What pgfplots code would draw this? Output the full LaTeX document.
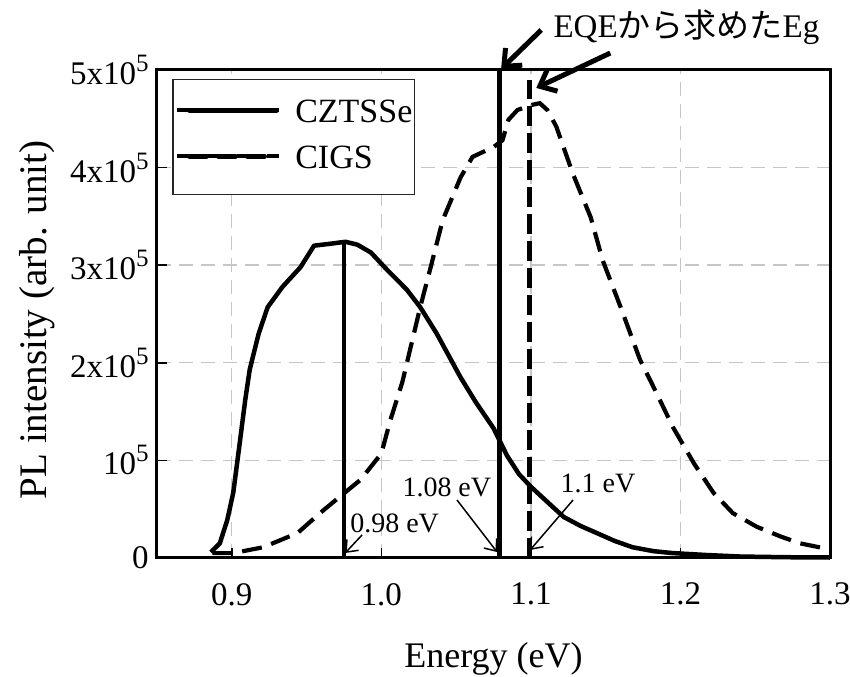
\documentclass[border=0pt]{standalone}
\usepackage{pgfplots}
\pgfplotsset{compat=1.18}
\usepackage{pgfplotstable}
\usepackage{fontspec}
\setmainfont{Liberation Serif}
\newfontfamily\cjk{Noto Sans CJK JP}
\usetikzlibrary{calc,arrows.meta}
\newcommand{\expf}[1]{\raisebox{6.5pt}{\fontsize{12.5pt}{14pt}\selectfont #1}}

\pgfplotstableread{
x y
0.886 6000
0.892 15000
0.897 39000
0.901 67000
0.905 114000
0.909 162000
0.912 193000
0.918 230000
0.924 257000
0.934 278000
0.946 298000
0.955 320000
0.966 322000
0.976 324000
0.984 321000
0.993 313000
1.004 295000
1.017 275000
1.026 257000
1.037 230000
1.053 185000
1.063 160000
1.075 133000
1.084 105000
1.092 86000
1.100 73000
1.112 56000
1.122 42000
1.133 33000
1.144 25600
1.156 17500
1.168 11000
1.182 7000
1.195 5000
1.218 3000
1.240 1500
1.270 800
1.300 500
}\cztsse

\pgfplotstableread{
x y
0.887 5000
0.901 5000
0.921 11000
0.944 25600
0.959 46000
0.972 62500
0.986 80000
1.000 107000
1.006 141000
1.014 180000
1.026 257000
1.033 298000
1.041 346000
1.053 390000
1.061 411000
1.075 421000
1.081 428000
1.085 449000
1.091 459000
1.100 464000
1.106 466000
1.111 459000
1.117 442000
1.128 394000
1.140 349000
1.148 305000
1.160 257000
1.173 203000
1.184 169000
1.195 134000
1.209 97000
1.222 67000
1.235 46000
1.251 32000
1.267 22000
1.280 15000
1.296 10000
1.300 9500
}\cigs

\begin{document}
\begin{tikzpicture}
\begin{axis}[
  scale only axis,
  width=336.5pt, height=244pt,
  xmin=0.85, xmax=1.3, ymin=0, ymax=500000,
  clip=false,
  axis line style={line width=1.5pt},
  tick align=inside,
  xtick pos=bottom, ytick pos=left,
  major tick length=5pt,
  tick style={black, line width=0.75pt},
  xtick={0.9,1.0,1.1,1.2,1.3},
  xticklabels={0.9,1.0,1.1,1.2,1.3},
  ytick={0,100000,200000,300000,400000,500000},
  yticklabels={0,10\expf{5},2x10\expf{5},3x10\expf{5},4x10\expf{5},5x10\expf{5}},
  scaled y ticks=false,
  ticklabel style={font=\fontsize{16.5pt}{19pt}\selectfont},
  yticklabel style={inner xsep=4pt},
  xticklabel style={yshift=-9pt},
  grid=major,
  major grid style={gray!45, line width=0.7pt, dash pattern=on 7pt off 4pt},
  legend style={at={(rel axis cs:0.0223,0.9816)}, anchor=north west,
    draw=black!85, line width=0.75pt, fill=white,
    font=\fontsize{17pt}{21pt}\selectfont,
    inner xsep=1pt, inner ysep=9pt, row sep=6.5pt, column sep=7pt,
    nodes={inner sep=0pt, text height=12.5pt, text depth=4pt, anchor=base west}},
]
\addplot[black, line width=2.25pt, line join=round,
  legend image code/.code={\path (-5pt,6.25pt) -- (46pt,6.25pt); \draw[black, line width=2.5pt, line cap=round] (1.25pt,6.25pt) -- (44.75pt,6.25pt);}]
  table[x=x,y=y]{\cztsse};
\addlegendentry{CZTSSe}
\addplot[black, line width=2.1pt, dash pattern=on 10pt off 5pt,
  legend image code/.code={\path (-5pt,6.25pt) -- (46pt,6.25pt); \draw[black, line width=2.5pt, line cap=round, dash pattern=on 8.5pt off 6pt] (1.25pt,6.25pt) -- (38.75pt,6.25pt);}]
  table[x=x,y=y]{\cigs};
\addlegendentry{CIGS}

% vertical marker lines
\addplot[black, line width=1.6pt, forget plot] coordinates {(0.975,0) (0.975,324000)};
\addplot[black, line width=2.8pt, forget plot] coordinates {(1.079,0) (1.079,500000)};
\addplot[black, line width=2.6pt, dash pattern=on 10pt off 3.5pt, forget plot] coordinates {(1.099,0) (1.099,490000)};

% annotations
\node[anchor=base west, inner sep=0pt, font=\fontsize{14pt}{16pt}\selectfont] at (axis cs:0.979,26600) {0.98 eV};
\node[anchor=base west, inner sep=0pt, font=\fontsize{14pt}{16pt}\selectfont] at (axis cs:1.0139,62500) {1.08 eV};
\node[anchor=base west, inner sep=0pt, font=\fontsize{14pt}{16pt}\selectfont] at (axis cs:1.1196,66600) {1.1 eV};
\draw[line width=0.75pt, -{Straight Barb[length=5pt,width=8pt]}] (axis cs:0.9871,23600) -- (axis cs:0.9758,5100);
\draw[line width=0.75pt, -{Straight Barb[length=5pt,width=8pt]}] (axis cs:1.0506,59400) -- (axis cs:1.0774,6100);
\draw[line width=0.75pt, -{Straight Barb[length=5pt,width=8pt]}] (axis cs:1.1282,59400) -- (axis cs:1.0995,8200);

\node[anchor=base west, inner sep=0pt, font=\fontsize{16.5pt}{19pt}\selectfont] at (axis cs:1.1149,533800) {EQE{\cjk から求めた}Eg};
\draw[line width=2.5pt, -{Straight Barb[length=7pt,width=12pt]}] (axis cs:1.1069,541000) -- (axis cs:1.0801,501000);
\draw[line width=2.5pt, -{Straight Barb[length=7pt,width=12pt]}] (axis cs:1.1531,517400) -- (axis cs:1.1036,481600);

\node[anchor=base, inner sep=0pt, font=\fontsize{18pt}{21pt}\selectfont] at ($(rel axis cs:0.5,0)+(0pt,-55pt)$) {Energy (eV)};
\node[anchor=base, rotate=90, inner sep=0pt, font=\fontsize{19.5pt}{22pt}\selectfont] at ($(rel axis cs:0,0.488)+(-55pt,0pt)$) {PL intensity (arb. unit)};
\end{axis}
\pgfresetboundingbox
\path[use as bounding box] ($(current axis.south west)+(-78.5pt,-59.5pt)$) rectangle ($(current axis.north east)+(10pt,35pt)$);
\end{tikzpicture}
\end{document}
